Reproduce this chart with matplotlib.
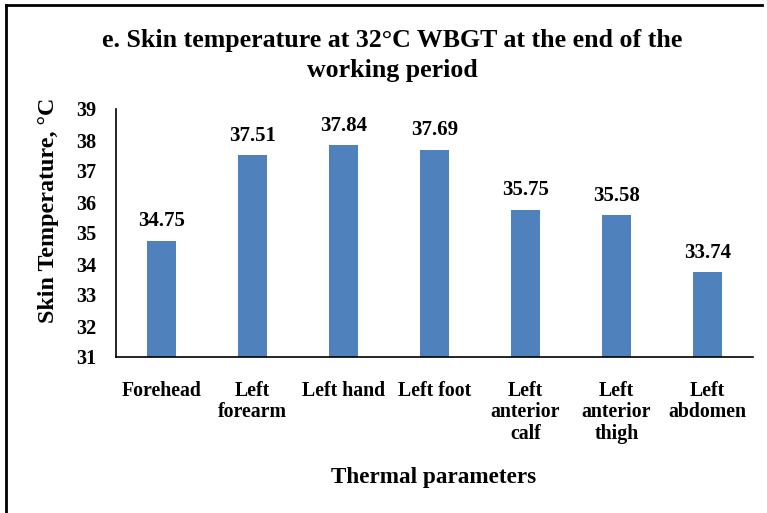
import matplotlib
matplotlib.use('Agg')
import matplotlib.pyplot as plt
from matplotlib.lines import Line2D

# data
categories = ['Forehead', 'Left\nforearm', 'Left hand', 'Left foot',
              'Left\nanterior\ncalf', 'Left\nanterior\nthigh', 'Left\nabdomen']
values = [34.75, 37.51, 37.84, 37.69, 35.75, 35.58, 33.74]
yticks = [31, 32, 33, 34, 35, 36, 37, 38, 39]

plt.rcParams['font.family'] = 'Liberation Serif'
plt.rcParams['font.weight'] = 'bold'

fig = plt.figure(figsize=(7.67, 5.13), dpi=100)
ax = fig.add_axes([116 / 767, 1 - 357 / 513, 637 / 767, 248 / 513])

x = list(range(len(categories)))
ax.bar(x, values, width=0.31, color='#4F81BD', bottom=0)
for xi, v in zip(x, values):
    ax.text(xi, v + 0.3, '%.2f' % v, ha='center', va='bottom',
            fontsize=15, fontweight='bold')

ax.set_xlim(-0.5, len(categories) - 0.5)
ax.set_ylim(31, 39)
ax.set_yticks(yticks)
ax.set_yticklabels([str(t) for t in yticks], fontsize=14.5, fontweight='bold')
ax.set_xticks(x)
ax.set_xticklabels(categories, fontsize=14.3, fontweight='bold', linespacing=1.12)
ax.tick_params(axis='both', length=0)
ax.tick_params(axis='y', pad=14)
ax.tick_params(axis='x', pad=17)
for s in ['top', 'right']:
    ax.spines[s].set_visible(False)
for s in ['left', 'bottom']:
    ax.spines[s].set_linewidth(1.2)

fig.text(392 / 767, 1 - 41 / 513, 'e. Skin temperature at 32\u00b0C WBGT at the end of the',
         ha='center', va='center', fontsize=18.6, fontweight='bold')
fig.text(392 / 767, 1 - 71 / 513, 'working period',
         ha='center', va='center', fontsize=18.6, fontweight='bold')
fig.text(434 / 767, 1 - 478 / 513, 'Thermal parameters',
         ha='center', va='center', fontsize=16.7, fontweight='bold')
fig.text(49 / 767, 1 - 210 / 513, 'Skin Temperature, \u00b0C', rotation=90,
         ha='center', va='center', fontsize=17.3, fontweight='bold')

# frame lines (top and left visible in the source)
fig.add_artist(Line2D([6 / 767, 762 / 767], [1 - 5 / 513, 1 - 5 / 513],
                      transform=fig.transFigure, color='black', lw=2))
fig.add_artist(Line2D([6 / 767, 6 / 767], [1 - 5 / 513, 0],
                      transform=fig.transFigure, color='black', lw=2))

fig.savefig('out.png', dpi=100)
